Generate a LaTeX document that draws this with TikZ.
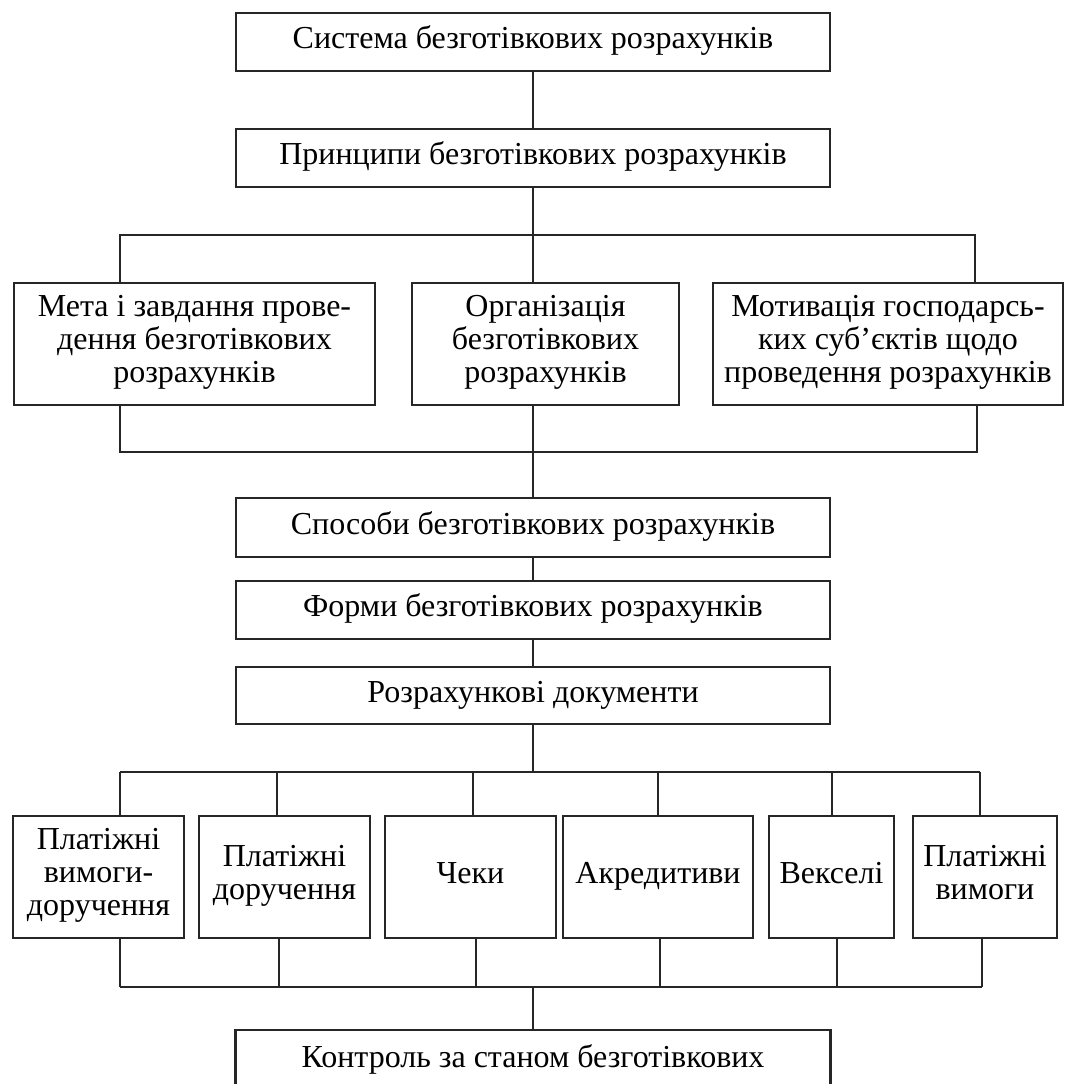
\documentclass[tikz,border=0pt]{standalone}
\usepackage{fontspec}
\setmainfont{Liberation Serif}
\begin{document}
\begin{tikzpicture}[x=1pt,y=-1pt,
  box/.style={draw=black!85, line width=2.2pt, align=center, inner sep=0pt,
    font=\fontsize{32}{33}\selectfont,
    execute at begin node=\strut, execute at end node=\strut},
  conn/.style={draw=black!85, line width=2pt}]
\useasboundingbox (0,0) rectangle (1066,1084);
\clip (0,0) rectangle (1066,1084);
\fill[white] (0,0) rectangle (1066,1084);
% top chain
\node[box, minimum width=594, minimum height=58] (sys) at (533,42) {Система безготівкових розрахунків};
\node[box, minimum width=594, minimum height=58] (princ) at (533,158) {Принципи безготівкових розрахунків};
% three boxes
\node[box, minimum width=361, minimum height=122] (A) at (194.5,344) {Мета і завдання прове-\\дення безготівкових\\розрахунків};
\node[box, minimum width=267, minimum height=122] (B) at (545.5,344) {Організація\\безготівкових\\розрахунків};
\node[box, minimum width=350, minimum height=122] (C) at (888,344) {Мотивація господарсь-\\ких суб’єктів щодо\\проведення розрахунків};
% middle chain
\node[box, minimum width=594, minimum height=59] (spos) at (533,527.5) {Способи безготівкових розрахунків};
\node[box, minimum width=594, minimum height=58] (form) at (533,610) {Форми безготівкових розрахунків};
\node[box, minimum width=594, minimum height=57] (rozr) at (533,695.5) {Розрахункові документи};
% six boxes
\node[box, minimum width=171, minimum height=122] (d1) at (98.5,877) {Платіжні\\вимоги-\\доручення};
\node[box, minimum width=171, minimum height=122] (d2) at (284.5,877) {Платіжні\\доручення};
\node[box, minimum width=171, minimum height=122] (d3) at (470.5,877) {Чеки};
\node[box, minimum width=190, minimum height=122] (d4) at (658,877) {Акредитиви};
\node[box, minimum width=125, minimum height=122] (d5) at (831.5,877) {Векселі};
\node[box, minimum width=144, minimum height=122] (d6) at (985,877) {Платіжні\\вимоги};
% bottom box (cut off by the page edge)
\node[box, anchor=north, minimum width=595, minimum height=90, text height=21pt, text depth=36pt] (ctrl) at (533,1029) {Контроль за станом безготівкових};
% bus coordinates
\coordinate (b1a) at (120,235);
\coordinate (b1b) at (975,235);
\coordinate (b2a) at (120,452);
\coordinate (b2b) at (977,452);
\coordinate (b3) at (533,772);
\coordinate (b4) at (533,987);
% connectors
\draw[conn] (sys.south) -- (princ.north);
\draw[conn] (princ.south) -- (princ.south |- B.north);
\draw[conn] (b1a |- A.north) -- (b1a) -- (b1b) -- (b1b |- C.north);
\draw[conn] (b2a |- A.south) -- (b2a) -- (b2b) -- (b2b |- C.south);
\draw[conn] (princ.south |- B.south) -- (spos.north);
\draw[conn] (spos.south) -- (form.north);
\draw[conn] (form.south) -- (rozr.north);
\draw[conn] (rozr.south) -- (b3);
\draw[conn] (b3 -| 120,0) -- (b3 -| 980,0);
\foreach \n/\xt/\xb in {d1/120/120, d2/277/279, d3/473/476, d4/658/660, d5/832/837, d6/980/982}{
  \draw[conn] (b3 -| \xt,0) -- (\xt,0 |- \n.north);
  \draw[conn] (\xb,0 |- \n.south) -- (b4 -| \xb,0);
}
\draw[conn] (b4 -| 120,0) -- (b4 -| 982,0);
\draw[conn] (b4) -- (ctrl.north);
\end{tikzpicture}
\end{document}
